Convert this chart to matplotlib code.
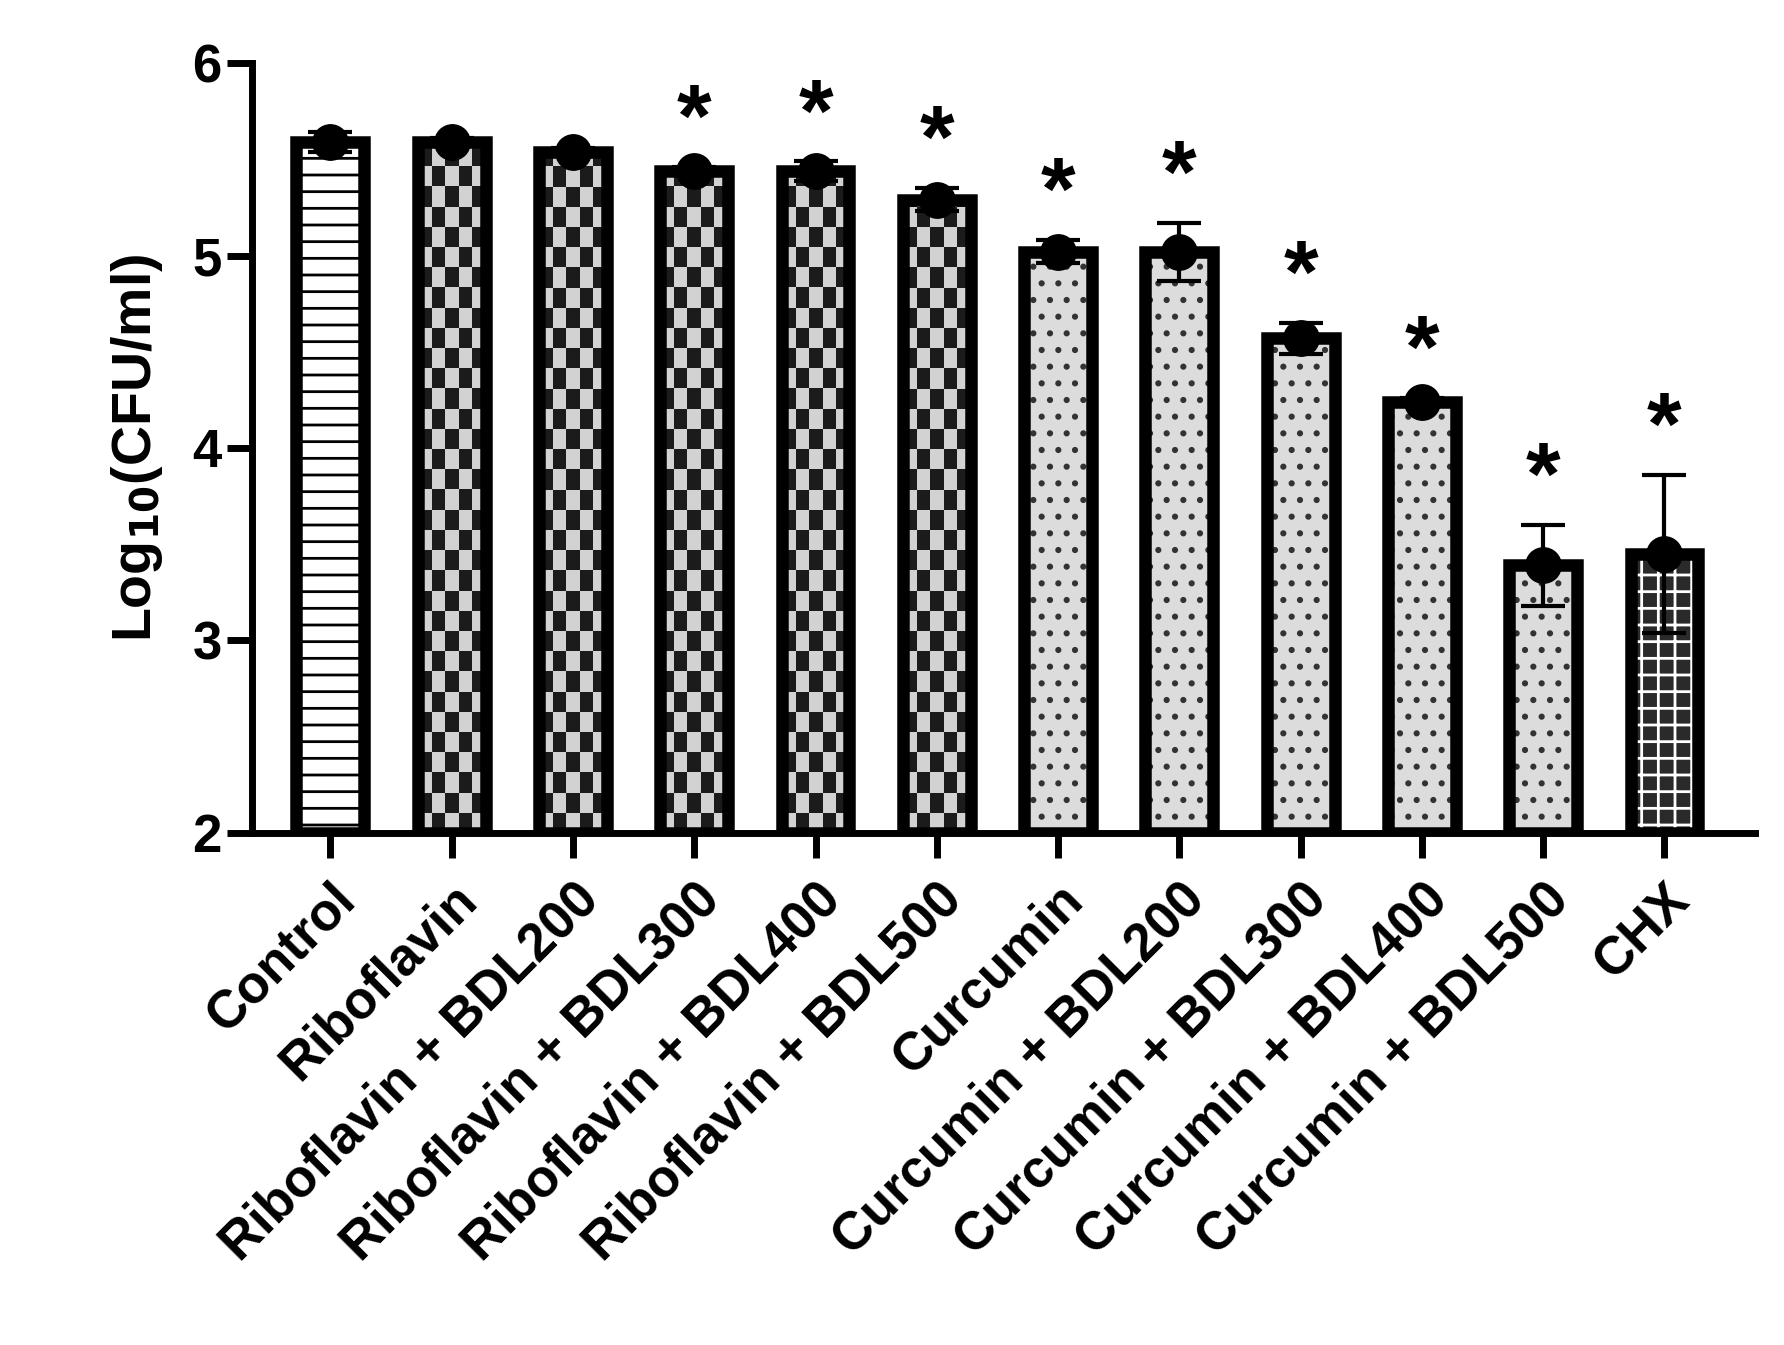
import numpy as np
import matplotlib.pyplot as plt

plt.rcParams['font.family'] = ['Liberation Sans', 'DejaVu Sans']
plt.rcParams['font.weight'] = 'bold'
plt.rcParams['mathtext.default'] = 'regular'
plt.rcParams['hatch.linewidth'] = 2.0

groups = ['Control', 'Riboflavin', 'Riboflavin + BDL200', 'Riboflavin + BDL300',
          'Riboflavin + BDL400', 'Riboflavin + BDL500', 'Curcumin', 'Curcumin + BDL200',
          'Curcumin + BDL300', 'Curcumin + BDL400', 'Curcumin + BDL500', 'CHX']
means = [5.59, 5.59, 5.54, 5.44, 5.44, 5.29, 5.02, 5.02, 4.57, 4.24, 3.39, 3.45]
errs = [0.05, 0.02, 0.02, 0.02, 0.05, 0.06, 0.06, 0.15, 0.08, 0.02, 0.21, 0.41]
signif = [False, False, False, True, True, True, True, True, True, True, True, True]
style = ['lines', 'checker', 'checker', 'checker', 'checker', 'checker',
         'dots', 'dots', 'dots', 'dots', 'dots', 'chx']

fig = plt.figure(figsize=(17.84, 13.45), dpi=100)
ax = fig.add_axes([0.141, 0.381, 0.843, 0.572])
x = np.arange(len(groups))
w = 0.56
base = 2

for xi, m, s in zip(x, means, style):
    if s == 'lines':
        ax.bar(xi, m - base, w, bottom=base, color='white', hatch='-', edgecolor='black', linewidth=0, zorder=1)
    elif s == 'dots':
        ax.bar(xi, m - base, w, bottom=base, color='#dcdcdc', hatch='.', edgecolor='#333333', linewidth=0, zorder=1)
    elif s == 'chx':
        ax.bar(xi, m - base, w, bottom=base, color='#2a2a2a', hatch='+', edgecolor='white', linewidth=0, zorder=1)
    else:
        b = ax.bar(xi, m - base, w, bottom=base, color='#dcdcdc', linewidth=0, zorder=1)[0]
        nr = int((m - base) / 0.105) + 1
        chk = (np.indices((nr, 5)).sum(axis=0) % 2)
        im = ax.imshow(chk, cmap='gray_r', vmin=-0.25, vmax=1.15, interpolation='nearest',
                       extent=(xi - w / 2, xi + w / 2, base, base + nr * 0.105),
                       origin='lower', aspect='auto', zorder=1.5)
        im.set_clip_path(b)
    ax.bar(xi, m - base, w, bottom=base, fill=False, edgecolor='black', linewidth=9, zorder=2)

ax.errorbar(x, means, yerr=errs, fmt='none', ecolor='black', elinewidth=3, capsize=16, capthick=3, zorder=3)
ax.scatter(x, means, s=650, color='black', zorder=4)
for xi, m, e, sg in zip(x, means, errs, signif):
    if sg:
        ax.text(xi, m + e + 0.01, '*', ha='center', va='bottom', fontsize=64, zorder=5)

ax.set_xlim(-0.65, 11.75)
ax.set_ylim(2, 6)
ax.set_yticks([2, 3, 4, 5, 6])
ax.set_xticks(x)
ax.set_xticklabels(groups, rotation=45, ha='right', rotation_mode='anchor', fontsize=38)
ax.tick_params(axis='y', labelsize=38, width=5, length=18)
ax.tick_params(axis='x', width=5, length=18, pad=12)
for sp in ['top', 'right']:
    ax.spines[sp].set_visible(False)
for sp in ['left', 'bottom']:
    ax.spines[sp].set_linewidth(5)
ax.set_ylabel('Log$_{\\mathbf{10}}$(CFU/ml)', fontsize=40, fontweight='bold', labelpad=20)

fig.savefig('out.png', dpi=100)
